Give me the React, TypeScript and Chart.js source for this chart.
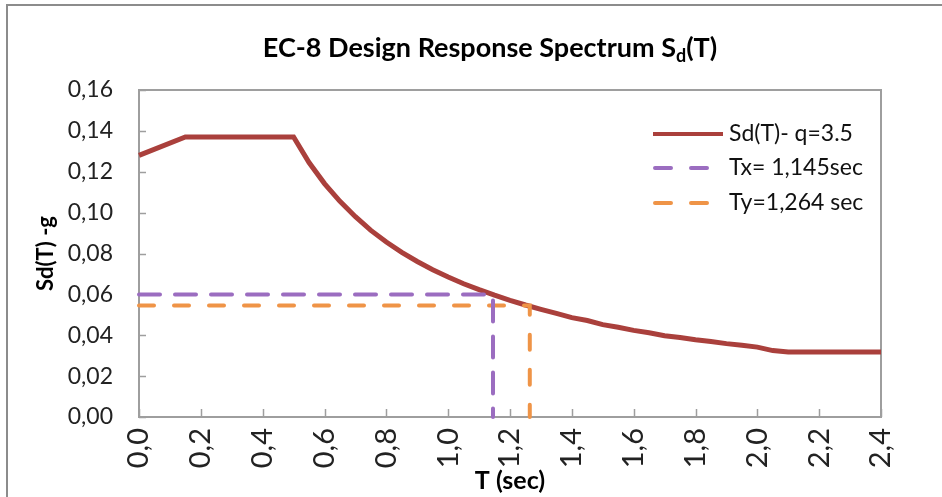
import React, { useEffect, useRef } from "react";
import { Chart, registerables } from "chart.js";

Chart.register(...registerables);

// ---- data ----
const periods = [
  0, 0.15, 0.5, 0.55, 0.6, 0.65, 0.7, 0.75, 0.8, 0.85, 0.9, 0.95, 1.0, 1.05,
  1.1, 1.15, 1.2, 1.25, 1.3, 1.35, 1.4, 1.45, 1.5, 1.55, 1.6, 1.65, 1.7, 1.75,
  1.8, 1.85, 1.9, 1.95, 2.0, 2.05, 2.1, 2.15, 2.2, 2.25, 2.3, 2.35, 2.4,
];
const sdValues = [
  0.128, 0.137, 0.137, 0.1245, 0.1142, 0.1055, 0.098, 0.0913, 0.0856, 0.0806,
  0.0761, 0.0721, 0.0685, 0.0652, 0.0623, 0.0596, 0.0571, 0.0548, 0.0527,
  0.0507, 0.0486, 0.0472, 0.0452, 0.0439, 0.0424, 0.0412, 0.0398, 0.0389,
  0.0378, 0.0369, 0.0359, 0.0351, 0.0342, 0.0325, 0.0318, 0.0318, 0.0318,
  0.0318, 0.0318, 0.0318, 0.0318,
];
const txPeriod = 1.145;
const txValue = 0.06;
const tyPeriod = 1.264;
const tyValue = 0.0545;

const seriesLabels = ["Sd(T)- q=3.5", "Tx= 1,145sec", "Ty=1,264 sec"];
const seriesColors = ["#AA403C", "#9B6DC0", "#EF9447"];
const titleParts = ["EC-8 Design Response Spectrum S", "d", "(T)"];
const xAxisTitle = "T (sec)";
const yAxisTitle = "Sd(T) -g";
const xMin = 0, xMax = 2.4, xStep = 0.2;
const yMin = 0, yMax = 0.16, yStep = 0.02;

const FONT = "Lato";
const GRAY = "#9e9e9e";

const decoPlugin = {
  id: "deco",
  beforeDatasetsDraw(chart: any) {
    const { ctx, chartArea: a, scales } = chart;
    ctx.save();
    ctx.strokeStyle = GRAY;
    ctx.lineWidth = 2;
    ctx.strokeRect(a.left, a.top, a.right - a.left, a.bottom - a.top);
    ctx.lineWidth = 1.5;
    ctx.beginPath();
    scales.y.ticks.forEach((t: any) => {
      const y = Math.round(scales.y.getPixelForValue(t.value)) + 0.5;
      ctx.moveTo(a.left, y);
      ctx.lineTo(a.left + 7, y);
    });
    scales.x.ticks.forEach((t: any) => {
      const x = Math.round(scales.x.getPixelForValue(t.value)) + 0.5;
      ctx.moveTo(x, a.bottom);
      ctx.lineTo(x, a.bottom - 8);
    });
    ctx.stroke();
    ctx.restore();
  },
  afterDraw(chart: any) {
    const { ctx } = chart;
    ctx.save();
    // title with subscript
    const mainFont = `bold 27px ${FONT}`;
    const subFont = `bold 18px ${FONT}`;
    ctx.font = mainFont;
    const w0 = ctx.measureText(titleParts[0]).width;
    const w2 = ctx.measureText(titleParts[2]).width;
    ctx.font = subFont;
    const w1 = ctx.measureText(titleParts[1]).width;
    let x = 490 - (w0 + w1 + w2) / 2;
    const base = 57;
    ctx.fillStyle = "#000";
    ctx.textBaseline = "alphabetic";
    ctx.textAlign = "left";
    ctx.font = mainFont;
    ctx.fillText(titleParts[0], x, base);
    x += w0;
    ctx.font = subFont;
    ctx.fillText(titleParts[1], x, base + 5);
    x += w1;
    ctx.font = mainFont;
    ctx.fillText(titleParts[2], x, base);

    // legend
    const rows = [134, 168, 203];
    chart.data.datasets.forEach((ds: any, i: number) => {
      const y = rows[i];
      ctx.strokeStyle = ds.borderColor;
      ctx.lineWidth = 4;
      ctx.lineCap = i === 0 ? "butt" : "round";
      ctx.setLineDash(i === 0 ? [] : [16, 20]);
      ctx.beginPath();
      ctx.moveTo(i === 0 ? 653 : 655, y);
      ctx.lineTo(723, y);
      ctx.stroke();
      ctx.setLineDash([]);
      ctx.fillStyle = "#111";
      ctx.font = `23px ${FONT}`;
      ctx.textBaseline = "middle";
      ctx.fillText(ds.label, 729, y);
    });
    ctx.restore();
  },
};

export default function App() {
  const ref = useRef<HTMLCanvasElement>(null);
  useEffect(() => {
    if (!ref.current) return;
    const chart = new Chart(ref.current, {
      type: "line",
      data: {
        datasets: [
          {
            label: seriesLabels[0],
            data: periods.map((t, i) => ({ x: t, y: sdValues[i] })),
            borderColor: seriesColors[0],
            borderWidth: 5,
            pointRadius: 0,
            tension: 0,
            order: 3,
          },
          {
            label: seriesLabels[1],
            data: [
              { x: 0, y: txValue },
              { x: txPeriod, y: txValue },
              { x: txPeriod, y: 0 },
            ],
            borderColor: seriesColors[1],
            borderWidth: 4,
            borderDash: [21, 15],
            borderCapStyle: "round",
            pointRadius: 0,
            order: 1,
          },
          {
            label: seriesLabels[2],
            data: [
              { x: 0, y: tyValue },
              { x: tyPeriod, y: tyValue },
              { x: tyPeriod, y: 0 },
            ],
            borderColor: seriesColors[2],
            borderWidth: 4,
            borderDash: [15, 20],
            borderCapStyle: "round",
            pointRadius: 0,
            order: 2,
          },
        ],
      },
      options: {
        responsive: false,
        animation: false,
        clip: false as any,
        layout: { padding: { top: 90, right: 61, bottom: 0, left: 0 } },
        plugins: {
          legend: { display: false },
          title: { display: false },
          tooltip: { enabled: false },
        },
        scales: {
          x: {
            type: "linear",
            min: xMin,
            max: xMax,
            grid: { display: false, drawTicks: false },
            border: { display: false },
            ticks: {
              stepSize: xStep,
              minRotation: 90,
              maxRotation: 90,
              padding: 11,
              color: "#222",
              font: { family: FONT, size: 29 },
              callback: (v: any) => Number(v).toFixed(1).replace(".", ","),
            },
            title: {
              display: true,
              text: xAxisTitle,
              color: "#000",
              font: { family: FONT, size: 25, weight: "bold" },
              padding: { top: 0, bottom: 1 },
            },
            afterFit: (s: any) => {
              s.height = 80;
            },
          },
          y: {
            type: "linear",
            min: yMin,
            max: yMax,
            grid: { display: false, drawTicks: false },
            border: { display: false },
            ticks: {
              stepSize: yStep,
              padding: 26,
              color: "#222",
              font: { family: FONT, size: 23 },
              callback: (v: any) => Number(v).toFixed(2).replace(".", ","),
            },
            title: {
              display: true,
              text: yAxisTitle,
              color: "#000",
              font: { family: FONT, size: 22, weight: "bold" },
              padding: { top: 33, bottom: 0 },
            },
            afterFit: (s: any) => {
              s.width = 139;
            },
          },
        },
      },
      plugins: [decoPlugin],
    });
    return () => chart.destroy();
  }, []);

  return (
    <div
      style={{
        position: "absolute",
        left: 0,
        top: 0,
        width: 942,
        height: 497,
        overflow: "hidden",
        background: "#fff",
      }}
    >
      <div
        style={{
          position: "absolute",
          left: 6,
          top: 4,
          width: 2000,
          height: 2000,
          border: "2px solid #8c8c8c",
          pointerEvents: "none",
        }}
      />
      <canvas
        ref={ref}
        width={942}
        height={497}
        style={{ position: "absolute", left: 0, top: 0, display: "block" }}
      />
    </div>
  );
}
